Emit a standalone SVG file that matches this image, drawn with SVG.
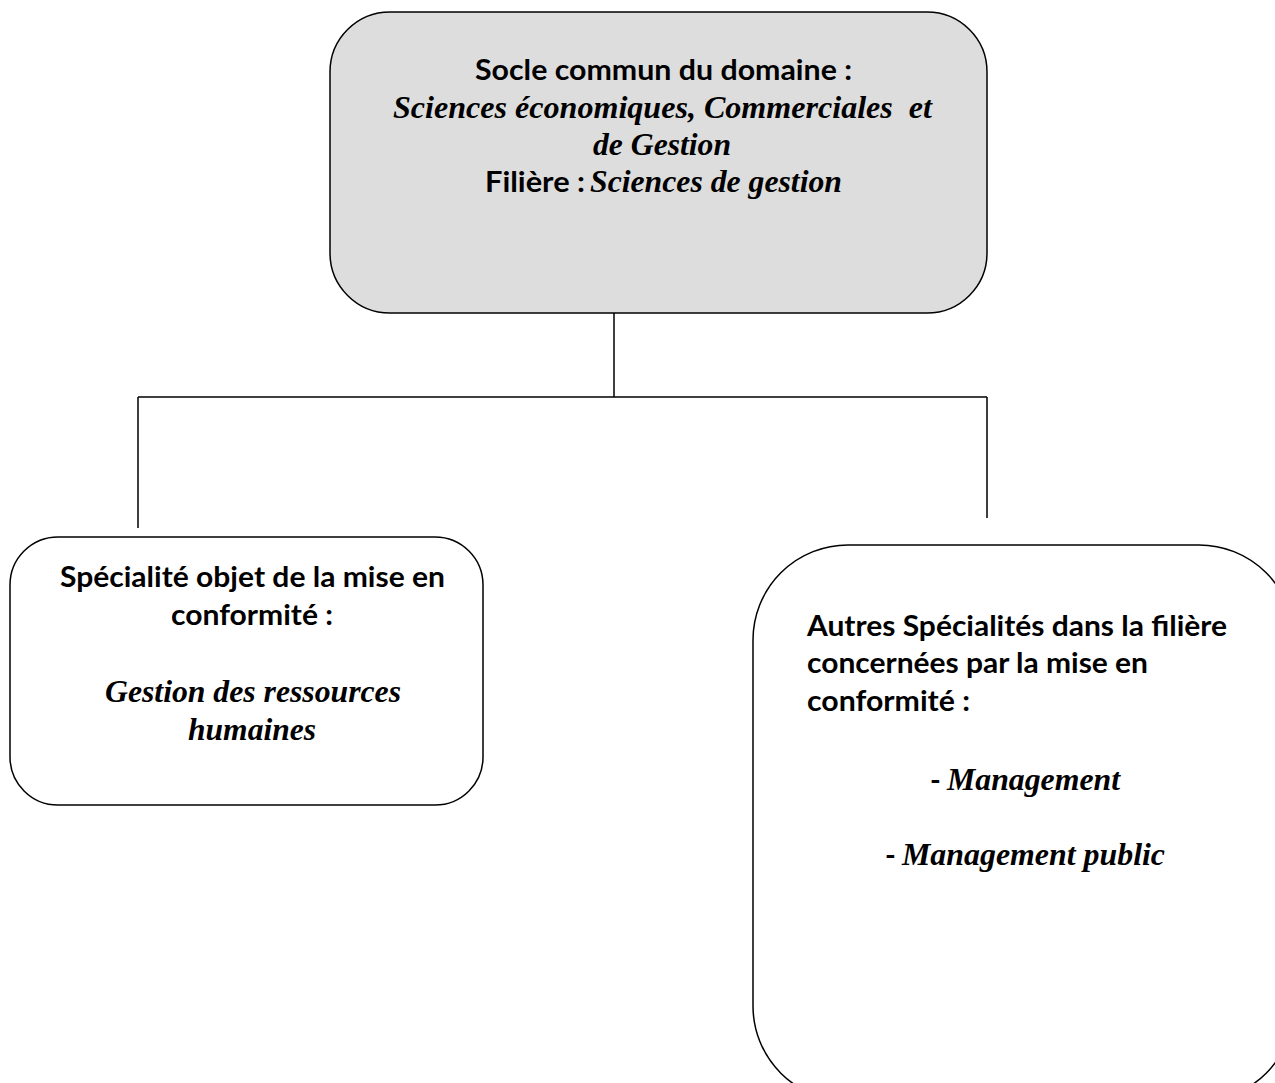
<svg xmlns="http://www.w3.org/2000/svg" width="1275" height="1083" viewBox="0 0 1275 1083">
<style>
.box{stroke:#000;stroke-width:1.5;}
.b{font-family:"Lato","Open Sans",sans-serif;font-weight:bold;font-size:29px;fill:#000;}
.i{font-family:"Liberation Serif","Times New Roman",serif;font-weight:bold;font-style:italic;font-size:31px;fill:#000;white-space:pre;}
.m{font-size:32px;}
.c{fill:none;stroke:#000;stroke-width:1.5;}
</style>
<rect width="1275" height="1083" fill="#fff"/>
<g id="connectors">
<path class="c" d="M614 313 V397 M138 397 H987 M138 397 V528 M987 397 V518"/>
</g>
<g id="node-socle">
<rect class="box" x="330" y="12" width="657" height="301" rx="60" ry="60" fill="#dddddd"/>
<text class="b" x="475" y="80" textLength="377" lengthAdjust="spacingAndGlyphs">Socle commun du domaine :</text>
<text class="i" x="393" y="118" textLength="539" lengthAdjust="spacingAndGlyphs">Sciences économiques, Commerciales  et</text>
<text class="i" x="593" y="155" textLength="138" lengthAdjust="spacingAndGlyphs">de Gestion</text>
<text class="b" x="485" y="192" textLength="100" lengthAdjust="spacingAndGlyphs">Filière :</text>
<text class="i" x="590" y="192" textLength="252" lengthAdjust="spacingAndGlyphs">Sciences de gestion</text>
</g>
<g id="node-specialite">
<rect class="box" x="10" y="537" width="473" height="268" rx="48" ry="48" fill="#fff"/>
<text class="b" x="60" y="587" textLength="385" lengthAdjust="spacingAndGlyphs">Spécialité objet de la mise en</text>
<text class="b" x="171" y="625" textLength="162" lengthAdjust="spacingAndGlyphs">conformité :</text>
<text class="i" x="105" y="702" textLength="296" lengthAdjust="spacingAndGlyphs">Gestion des ressources</text>
<text class="i" x="188" y="740" textLength="128" lengthAdjust="spacingAndGlyphs">humaines</text>
</g>
<g id="node-autres">
<rect class="box" x="753" y="545" width="541" height="556" rx="95" ry="95" fill="#fff"/>
<text class="b" x="807" y="636" textLength="420" lengthAdjust="spacingAndGlyphs">Autres Spécialités dans la filière</text>
<text class="b" x="807" y="673" textLength="341" lengthAdjust="spacingAndGlyphs">concernées par la mise en</text>
<text class="b" x="807" y="711" textLength="163" lengthAdjust="spacingAndGlyphs">conformité :</text>
<text class="b" x="930" y="790">-</text>
<text class="i m" x="947" y="790" textLength="173" lengthAdjust="spacingAndGlyphs">Management</text>
<text class="b" x="885" y="865">-</text>
<text class="i m" x="902" y="865" textLength="263" lengthAdjust="spacingAndGlyphs">Management public</text>
</g>
</svg>
